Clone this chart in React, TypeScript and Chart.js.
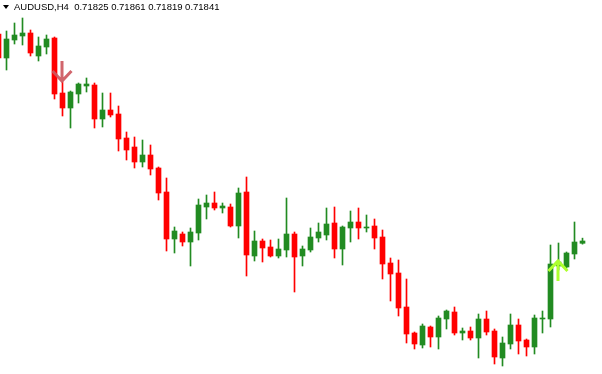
import React, { useEffect, useRef } from 'react';
import { Chart, registerables } from 'chart.js';

Chart.register(...registerables);

const symbolLabel = 'AUDUSD,H4';
const lastQuote = ['0.71825', '0.71861', '0.71819', '0.71841'];

const opens = [
  0.73290, 0.73122, 0.73248, 0.73276, 0.73297, 0.73136, 0.73199, 0.73262, 0.72877, 0.72772,
  0.72870, 0.72926, 0.72933, 0.72695, 0.72758, 0.72730, 0.72562, 0.72499, 0.72394, 0.72443,
  0.72352, 0.72184, 0.71855, 0.71890, 0.71834, 0.71897, 0.72079, 0.72107, 0.72072, 0.72079,
  0.71946, 0.72184, 0.71736, 0.71841, 0.71799, 0.71736, 0.71778, 0.71890, 0.71736, 0.71778,
  0.71862, 0.71883, 0.71967, 0.71785, 0.71932, 0.71974, 0.71932, 0.71946, 0.71869, 0.71687,
  0.71617, 0.71379, 0.71197, 0.71113, 0.71239, 0.71169, 0.71295, 0.71344, 0.71197, 0.71211,
  0.71162, 0.71295, 0.71211, 0.71022, 0.71120, 0.71253, 0.71148, 0.71099, 0.71295, 0.71295,
  0.71666, 0.71659, 0.71750, 0.71825,
];
const highs = [
  0.73318, 0.73311, 0.73367, 0.73402, 0.73318, 0.73269, 0.73283, 0.73269, 0.72954, 0.72891,
  0.72947, 0.72982, 0.72947, 0.72877, 0.72877, 0.72786, 0.72604, 0.72569, 0.72548, 0.72513,
  0.72359, 0.72282, 0.71939, 0.71904, 0.71932, 0.72135, 0.72163, 0.72184, 0.72107, 0.72100,
  0.72212, 0.72289, 0.71911, 0.71855, 0.71848, 0.71855, 0.72142, 0.71904, 0.71806, 0.71932,
  0.71967, 0.72072, 0.72079, 0.71946, 0.72051, 0.72072, 0.72023, 0.71995, 0.71918, 0.71722,
  0.71708, 0.71575, 0.71204, 0.71260, 0.71246, 0.71316, 0.71358, 0.71379, 0.71232, 0.71239,
  0.71330, 0.71351, 0.71225, 0.71169, 0.71330, 0.71295, 0.71155, 0.71323, 0.71351, 0.71813,
  0.71827, 0.71764, 0.71974, 0.71861,
];
const lows = [
  0.73108, 0.73038, 0.73220, 0.73213, 0.73136, 0.73101, 0.73150, 0.72835, 0.72716, 0.72632,
  0.72807, 0.72884, 0.72632, 0.72639, 0.72709, 0.72471, 0.72408, 0.72352, 0.72359, 0.72303,
  0.72128, 0.71771, 0.71757, 0.71806, 0.71666, 0.71848, 0.71995, 0.72058, 0.72037, 0.71939,
  0.71862, 0.71596, 0.71701, 0.71694, 0.71729, 0.71722, 0.71729, 0.71484, 0.71666, 0.71764,
  0.71834, 0.71848, 0.71722, 0.71673, 0.71834, 0.71855, 0.71904, 0.71785, 0.71575, 0.71421,
  0.71316, 0.71127, 0.71085, 0.71092, 0.71099, 0.71085, 0.71225, 0.71183, 0.71148, 0.71148,
  0.71022, 0.71183, 0.70980, 0.70966, 0.71085, 0.71050, 0.71036, 0.71050, 0.71197, 0.71239,
  0.71638, 0.71652, 0.71715, 0.71819,
];
const closes = [
  0.73122, 0.73255, 0.73283, 0.73297, 0.73157, 0.73206, 0.73255, 0.72870, 0.72772, 0.72884,
  0.72940, 0.72940, 0.72695, 0.72758, 0.72723, 0.72555, 0.72478, 0.72394, 0.72443, 0.72345,
  0.72177, 0.71855, 0.71911, 0.71834, 0.71904, 0.72093, 0.72107, 0.72072, 0.72086, 0.71946,
  0.72177, 0.71743, 0.71841, 0.71792, 0.71736, 0.71785, 0.71890, 0.71729, 0.71785, 0.71869,
  0.71904, 0.71960, 0.71785, 0.71939, 0.71974, 0.71932, 0.71939, 0.71862, 0.71680, 0.71610,
  0.71372, 0.71190, 0.71120, 0.71246, 0.71169, 0.71302, 0.71351, 0.71197, 0.71211, 0.71162,
  0.71295, 0.71204, 0.71029, 0.71127, 0.71253, 0.71141, 0.71099, 0.71302, 0.71302, 0.71680,
  0.71694, 0.71757, 0.71834, 0.71841,
];

const sellSignals = [{ bar: 8, price: 0.72954 }];
const buySignals = [{ bar: 70, price: 0.71708 }];

const priceMin = 0.7091;
const priceMax = 0.73528;

export default function App() {
  const ref = useRef<HTMLCanvasElement>(null);

  useEffect(() => {
    if (!ref.current) return;
    const bull = '#228B22';
    const bear = '#FF0000';
    const colors = opens.map((o, i) => (closes[i] >= o ? bull : bear));

    const signalPlugin = {
      id: 'signals',
      afterDatasetsDraw(chart: any) {
        const ctx = chart.ctx;
        const xs = chart.scales.x;
        const ys = chart.scales.y;
        ctx.save();
        ctx.lineWidth = 3;
        ctx.lineCap = 'butt';
        ctx.lineJoin = 'miter';
        sellSignals.forEach((s) => {
          const x = xs.getPixelForValue(s.bar) - 0.5;
          const y = ys.getPixelForValue(s.price);
          ctx.strokeStyle = 'rgba(205,88,96,0.92)';
          ctx.beginPath();
          ctx.moveTo(x, y - 21);
          ctx.lineTo(x, y);
          ctx.moveTo(x - 9.5, y - 11);
          ctx.lineTo(x, y - 1);
          ctx.lineTo(x + 9.5, y - 11);
          ctx.stroke();
        });
        buySignals.forEach((s) => {
          const x = xs.getPixelForValue(s.bar) - 0.5;
          const y = ys.getPixelForValue(s.price);
          ctx.strokeStyle = '#ADFF2F';
          ctx.beginPath();
          ctx.moveTo(x, y + 21);
          ctx.lineTo(x, y);
          ctx.moveTo(x - 9.5, y + 11);
          ctx.lineTo(x, y + 1);
          ctx.lineTo(x + 9.5, y + 11);
          ctx.stroke();
        });
        ctx.restore();
      },
    };

    const chart = new Chart(ref.current, {
      type: 'bar',
      data: {
        datasets: [
          {
            label: 'wick',
            data: opens.map((_, i) => ({ x: i, y: [lows[i], highs[i]] })) as any,
            backgroundColor: colors,
            barThickness: 1,
            grouped: false,
            borderWidth: 0,
          } as any,
          {
            label: 'body',
            data: opens.map((o, i) => ({ x: i, y: [o, closes[i]] })) as any,
            backgroundColor: colors,
            barThickness: 5,
            minBarLength: 1,
            grouped: false,
            borderWidth: 0,
          } as any,
        ],
      },
      options: {
        animation: false,
        responsive: false,
        maintainAspectRatio: false,
        layout: { padding: 0 },
        scales: {
          x: { type: 'linear', min: 0.1875, max: 75.4375, offset: false, display: false },
          y: { min: priceMin, max: priceMax, display: false },
        },
        plugins: { legend: { display: false }, tooltip: { enabled: false } },
      },
      plugins: [signalPlugin],
    });
    return () => chart.destroy();
  }, []);

  return (
    <div style={{ position: 'fixed', left: 0, top: 0, width: 602, height: 374, background: '#fff', overflow: 'hidden' }}>
      <canvas ref={ref} width={602} height={374} style={{ position: 'absolute', left: 0, top: 0 }} />
      <div
        style={{
          position: 'absolute', left: 3, top: 5, width: 0, height: 0,
          borderLeft: '3px solid transparent', borderRight: '3px solid transparent', borderTop: '4px solid #000',
        }}
      />
      <div
        style={{
          position: 'absolute', left: 14, top: 1, fontFamily: '"Liberation Sans", Arial, sans-serif',
          fontSize: '9.5px', lineHeight: '11px', color: '#000', whiteSpace: 'pre',
        }}
      >
        {symbolLabel + '  ' + lastQuote.join(' ')}
      </div>
    </div>
  );
}
